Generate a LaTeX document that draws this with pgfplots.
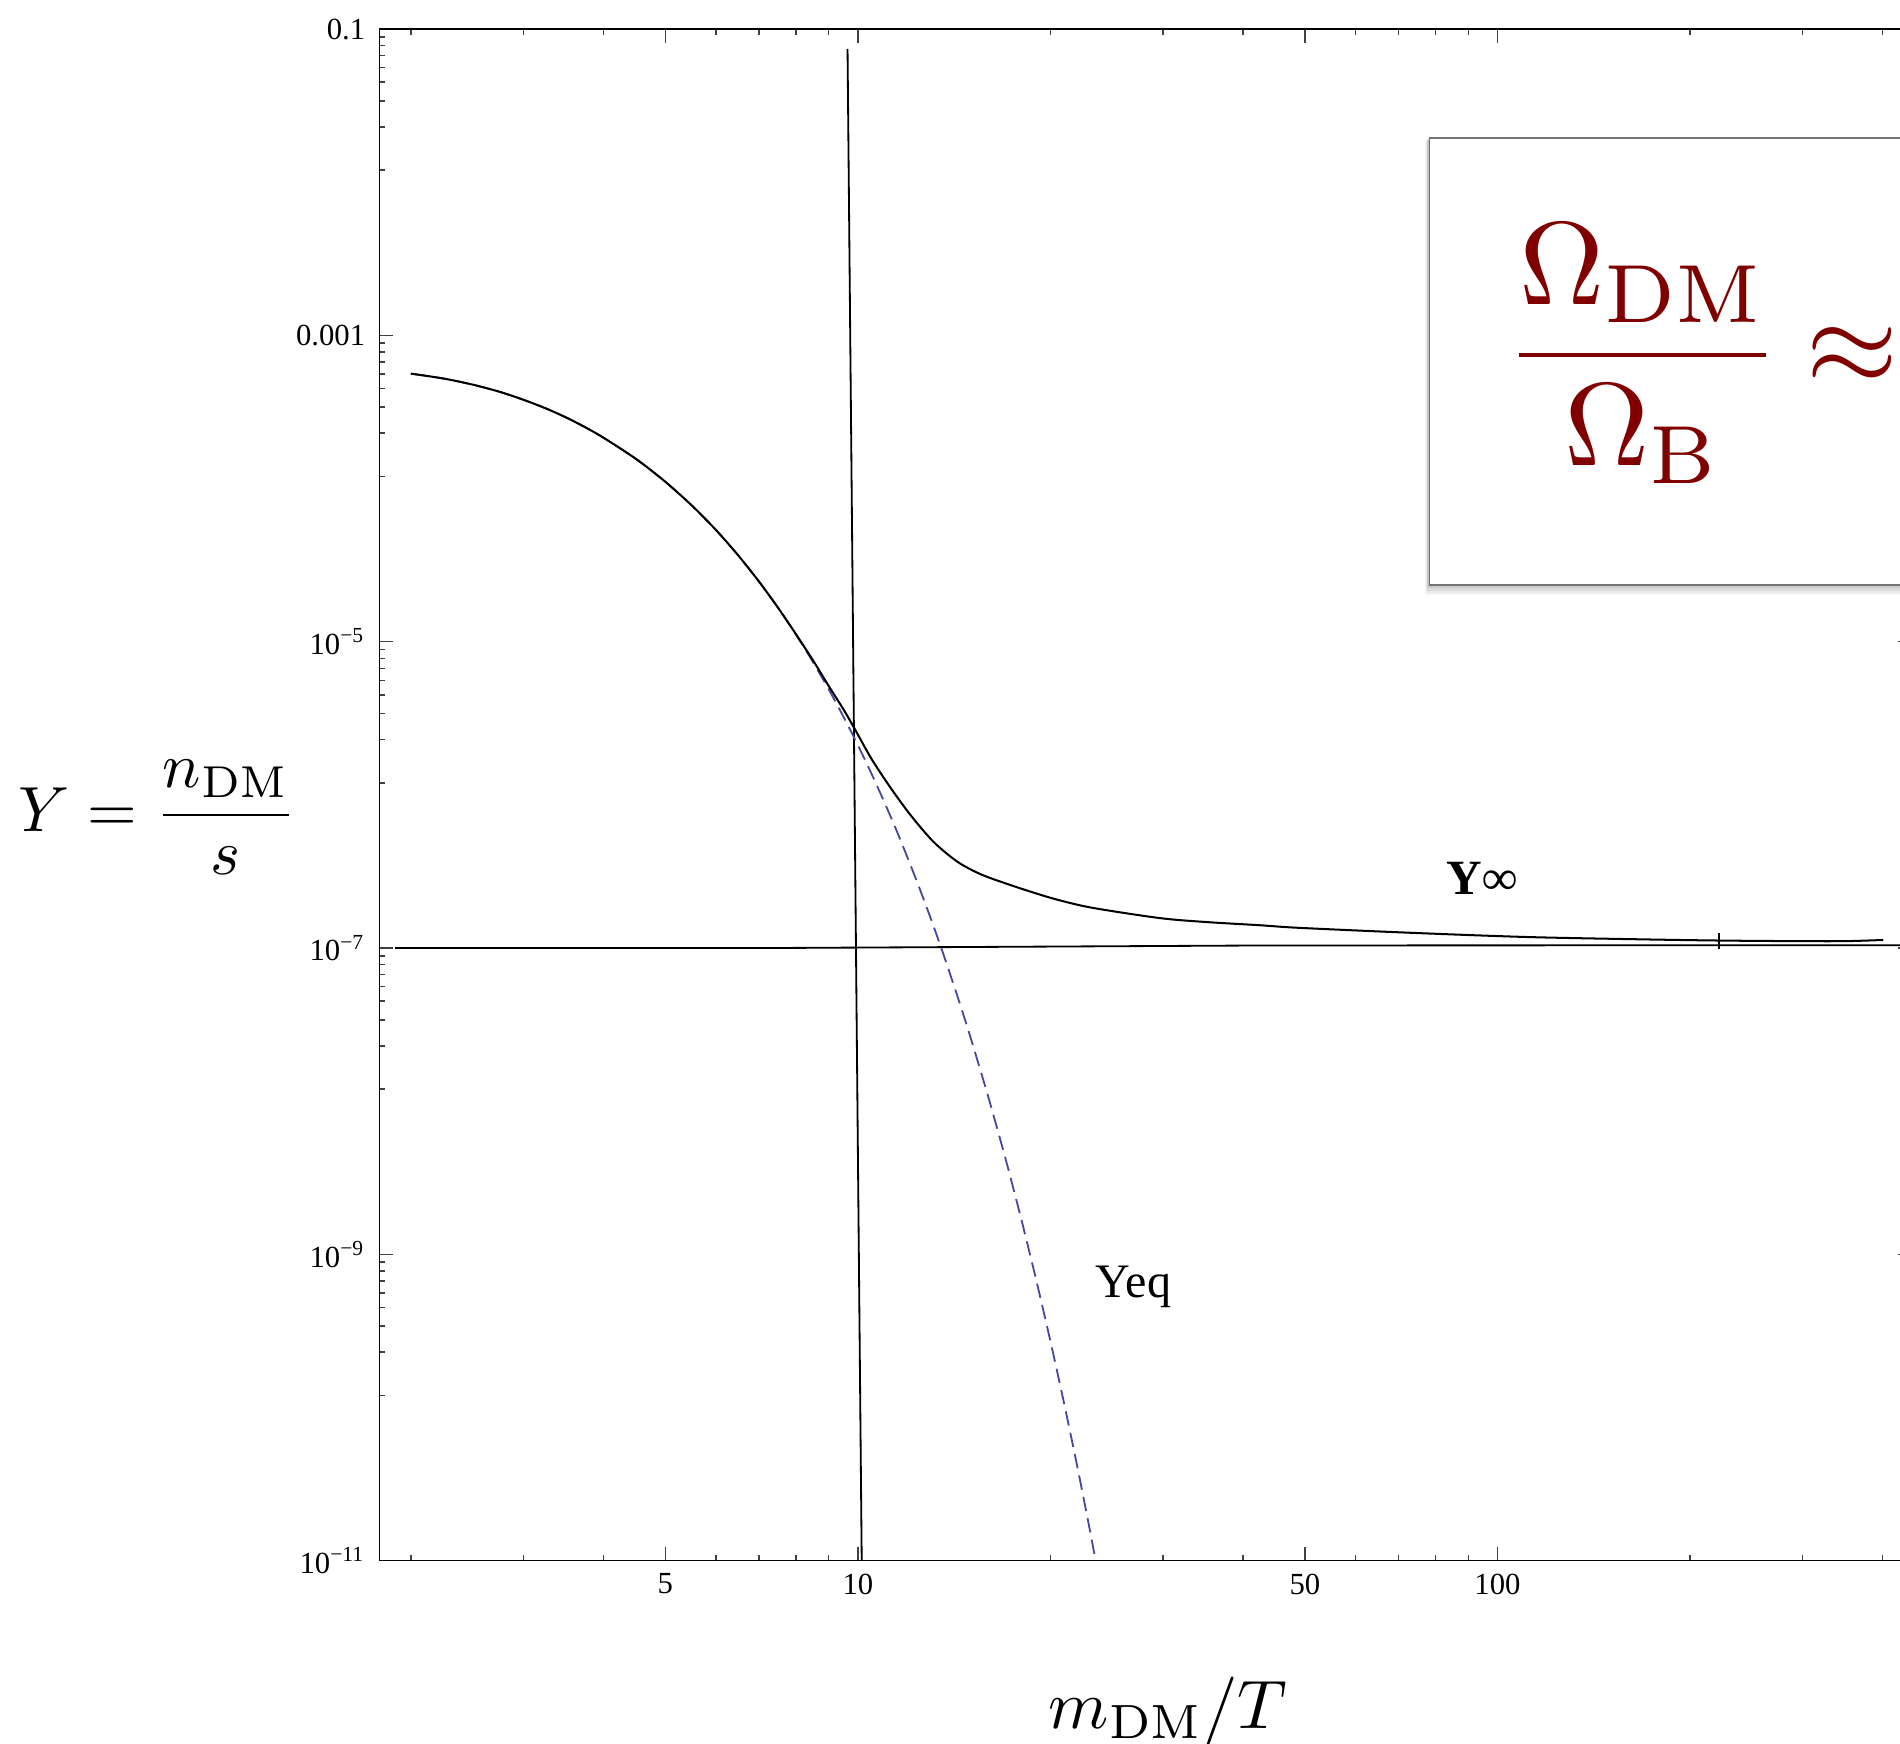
\documentclass[border=0pt]{standalone}
\usepackage{amsmath}
\usepackage[no-math]{fontspec}
\setmainfont{Liberation Serif}
\usepackage{graphicx}
\usepackage{pgfplots}
\pgfplotsset{compat=1.18}
\definecolor{eqblue}{RGB}{72,72,160}
\definecolor{darkred}{RGB}{128,0,0}

\pgfplotstableread{
x y
2.0 5.63e-4
2.25 5.23e-4
2.5 4.77e-4
2.75 4.29e-4
3.0 3.80e-4
3.25 3.34e-4
3.5 2.91e-4
3.75 2.51e-4
4.0 2.15e-4
4.5 1.56e-4
5.0 1.107e-4
5.5 7.75e-5
6.0 5.36e-5
6.5 3.66e-5
7.0 2.48e-5
7.5 1.67e-5
8.0 1.116e-5
8.5 7.41e-6
9.0 4.90e-6
9.5 3.22e-6
10.0 2.11e-6
10.5 1.377e-6
11.0 8.96e-7
11.5 5.81e-7
12.0 3.75e-7
12.5 2.42e-7
13.0 1.557e-7
13.5 1.0e-7
14.0 6.40e-8
14.5 4.09e-8
15.0 2.61e-8
16.0 1.058e-8
17.0 4.27e-9
18.0 1.71e-9
19.0 6.82e-10
20.0 2.71e-10
21.0 1.073e-10
22.0 4.23e-11
23.0 1.66e-11
24.0 6.5e-12
}\yeqtable

\pgfplotstableread{
x y
2.0 5.63e-4
2.25 5.23e-4
2.5 4.77e-4
2.75 4.29e-4
3.0 3.80e-4
3.25 3.34e-4
3.5 2.91e-4
3.75 2.51e-4
4.0 2.15e-4
4.5 1.56e-4
5.0 1.107e-4
5.5 7.75e-5
6.0 5.36e-5
6.5 3.66e-5
7.0 2.48e-5
7.5 1.67e-5
8.0 1.12e-5
8.5 7.6e-6
9.0 5.15e-6
9.5 3.6e-6
9.9 2.67e-6
10.5 1.72e-6
11.22 1.13e-6
11.92 7.96e-7
12.51 6.19e-7
13.12 4.95e-7
13.77 4.14e-7
14.44 3.57e-7
15.33 3.12e-7
16.28 2.82e-7
18.36 2.38e-7
20.5 2.07e-7
23.3 1.83e-7
29.65 1.57e-7
35.0 1.48e-7
42.5 1.41e-7
49.1 1.355e-7
74.1 1.256e-7
112 1.18e-7
169 1.14e-7
223 1.12e-7
294 1.11e-7
350 1.11e-7
401 1.13e-7
}\ytable

\begin{document}
\begin{tikzpicture}
\useasboundingbox (0,0) rectangle (470.4pt,431.7pt);
\clip (0,0) rectangle (470.4pt,431.7pt);
\begin{axis}[
  at={(93.9pt,45.3pt)}, anchor=south west,
  scale only axis, width=379.5pt, height=379.2pt,
  xmode=log, ymode=log,
  xmin=1.785, xmax=445, ymin=1e-11, ymax=0.1,
  axis line style={line width=0.35pt},
  tick align=inside,
  major tick length=3.5pt, minor tick length=1.4pt,
  tick style={black!75, line width=0.35pt},
  xtick={5,10,50,100}, xticklabels={5,10,50,100},
  minor xtick={2,3,4,6,7,8,9,20,30,40,60,70,80,90,200,300,400},
  ytick={1e-11,1e-9,1e-7,1e-5,1e-3,1e-1},
  yticklabels={10\textsuperscript{−11},10\textsuperscript{−9},10\textsuperscript{−7},10\textsuperscript{−5},0.001,0.1},
  minor ytick={0.089,0.078,0.067,0.056,0.045,0.034,0.023,0.012,
    8.9e-4,7.8e-4,6.7e-4,5.6e-4,4.5e-4,3.4e-4,2.3e-4,1.2e-4,
    8.9e-6,7.8e-6,6.7e-6,5.6e-6,4.5e-6,3.4e-6,2.3e-6,1.2e-6,
    8.9e-8,7.8e-8,6.7e-8,5.6e-8,4.5e-8,3.4e-8,2.3e-8,1.2e-8,
    8.9e-10,7.8e-10,6.7e-10,5.6e-10,4.5e-10,3.4e-10,2.3e-10,1.2e-10},
  xticklabel style={font=\fontsize{7.6}{8.5}\selectfont, inner sep=0pt, yshift=-3pt},
  yticklabel style={font=\fontsize{7.6}{8.5}\selectfont, inner sep=0pt, xshift=-3.3pt},
  clip=true,
]
\addplot[black, line width=0.45pt] coordinates {(1.89,1.0e-7) (7,1.0e-7) (42.5,1.04e-7) (445,1.045e-7)};
\addplot[black, line width=0.45pt] coordinates {(9.633,0.0743) (10.138,1e-11)};
\addplot[eqblue, line width=0.45pt, smooth, tension=0.4, dash pattern=on 3.6pt off 1.8pt] table[x=x,y=y] {\yeqtable};
\addplot[black, line width=0.5pt, smooth, tension=0.5] table[x=x,y=y] {\ytable};
\addplot[black, line width=0.35pt] coordinates {(222,9.8e-8) (222,1.26e-7)};
\node[anchor=base west, inner sep=0pt, font=\fontsize{12.2}{14}\selectfont\bfseries] at (axis cs:83.1,2.25e-7) {Y∞};
\node[anchor=base west, inner sep=0pt, font=\fontsize{11.9}{14}\selectfont] at (axis cs:23.48,5.24e-10) {Yeq};
\end{axis}
% soft shadow
\fill[black, opacity=0.07] (353.6pt,286.5pt) rectangle (500pt,397.6pt);
\fill[black, opacity=0.07] (353.4pt,286.0pt) rectangle (500pt,397.4pt);
\fill[black, opacity=0.06] (353.2pt,285.5pt) rectangle (500pt,397.2pt);
\fill[black, opacity=0.05] (353.0pt,285.0pt) rectangle (500pt,397.0pt);
\fill[black, opacity=0.04] (352.8pt,284.5pt) rectangle (500pt,396.8pt);
\draw[draw=black!55, line width=0.4pt, fill=white] (353.9pt,286.9pt) rectangle (500pt,397.6pt);
\node[anchor=base west, inner sep=0pt, text=darkred] at (372.4pt,336.5pt) {\scalebox{2.92}{$\dfrac{\Omega_{\mathrm{DM}}}{\Omega_{\mathrm{B}}}\mskip-1mu\approx$}};
\node[anchor=base west, inner sep=0pt] at (4.5pt,225.95pt) {\scalebox{1.58}{$Y=\dfrac{n_{\mathrm{DM}}}{s}$}};
\node[anchor=base west, inner sep=0pt] at (259.5pt,3.8pt) {\scalebox{1.7}{$m_{\mathrm{DM}}/T$}};
\end{tikzpicture}
\end{document}
